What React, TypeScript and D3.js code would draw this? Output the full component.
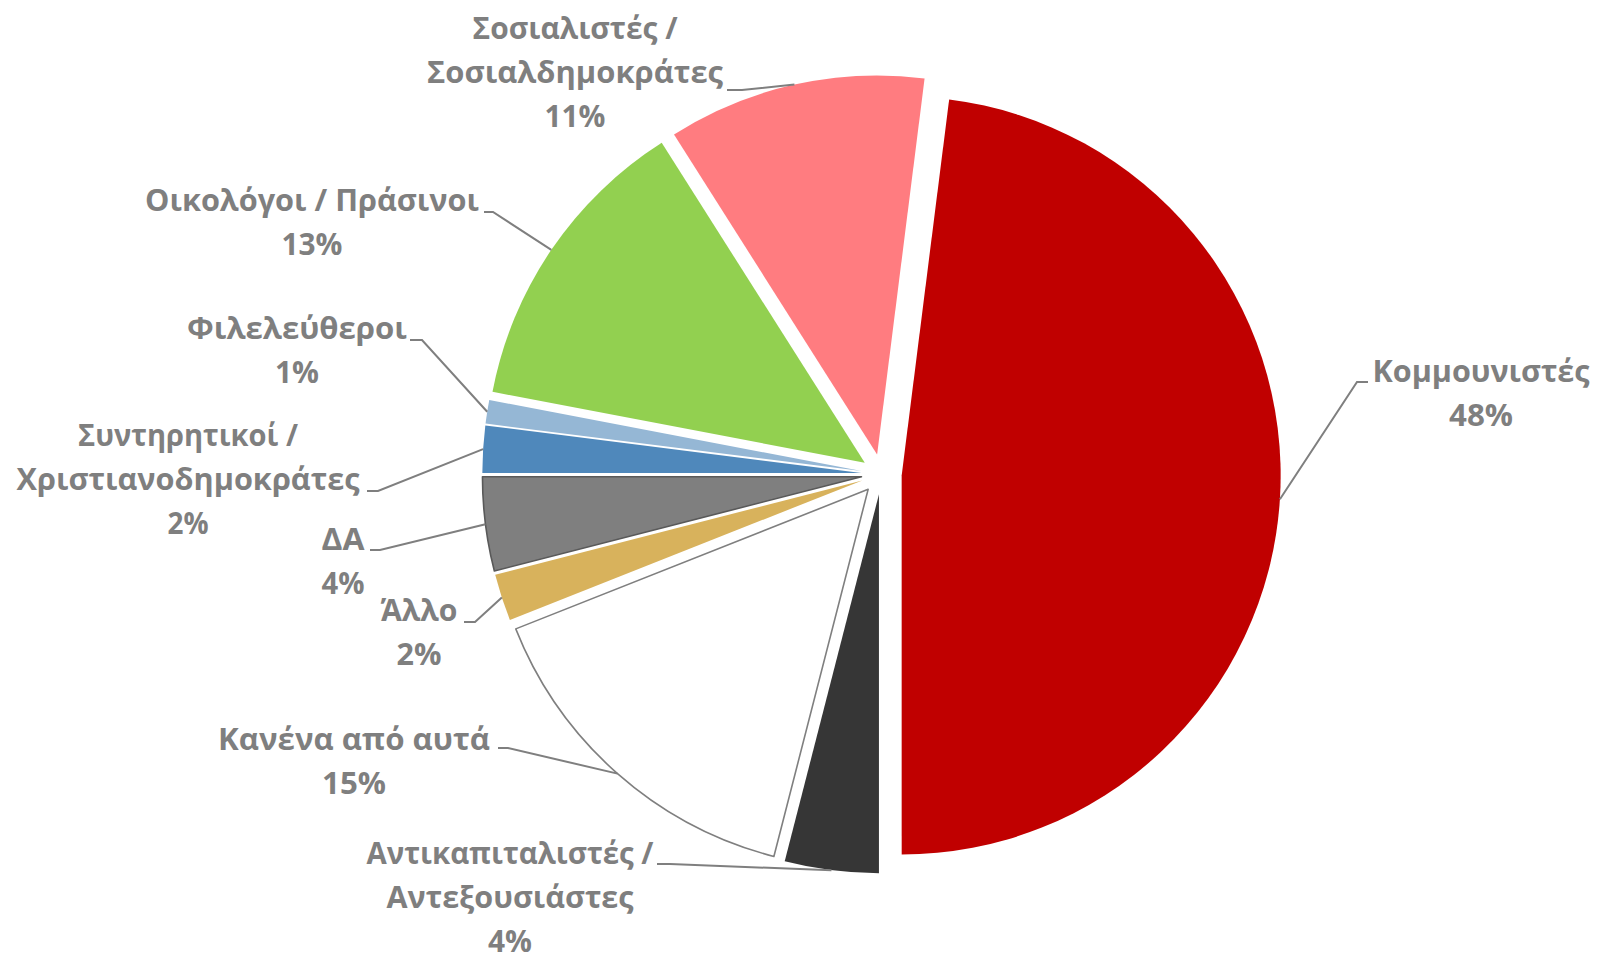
import React from "react";
import * as d3 from "d3";

// ---- data ----
const categories = [
  "Αντικαπιταλιστές / Αντεξουσιάστες",
  "Κανένα από αυτά",
  "Άλλο",
  "ΔΑ",
  "Συντηρητικοί / Χριστιανοδημοκράτες",
  "Φιλελεύθεροι",
  "Οικολόγοι / Πράσινοι",
  "Σοσιαλιστές / Σοσιαλδημοκράτες",
  "Κομμουνιστές",
];
const labelLines = [
  ["Αντικαπιταλιστές /", "Αντεξουσιάστες"],
  ["Κανένα από αυτά"],
  ["Άλλο"],
  ["ΔΑ"],
  ["Συντηρητικοί /", "Χριστιανοδημοκράτες"],
  ["Φιλελεύθεροι"],
  ["Οικολόγοι / Πράσινοι"],
  ["Σοσιαλιστές /", "Σοσιαλδημοκράτες"],
  ["Κομμουνιστές"],
];
const values = [4, 15, 2, 4, 2, 1, 13, 11, 48];
const colors = [
  "#363636",
  "#FFFFFF",
  "#D8B25C",
  "#7F7F7F",
  "#4F88BB",
  "#95B7D5",
  "#92D050",
  "#FF7C80",
  "#C00000",
];
const strokes = ["none", "#7F7F7F", "none", "#595959", "none", "none", "none", "none", "none"];

// ---- layout (label placement) ----
type LabelLayout = { cx: number; y0: number; widths: number[]; lead: [number, number][] };
const labelLayout: LabelLayout[] = [
  { cx: 510, y0: 864, widths: [287, 247, 44], lead: [[657, 864], [670, 864]] },
  { cx: 354, y0: 750, widths: [272, 64], lead: [[498, 748], [508, 748]] },
  { cx: 419, y0: 621, widths: [77, 45], lead: [[464, 622], [475, 622]] },
  { cx: 343, y0: 550, widths: [43, 43], lead: [[370, 550], [380, 550]] },
  { cx: 188, y0: 446, widths: [220, 343, 41], lead: [[367, 491], [378, 491]] },
  { cx: 297, y0: 339, widths: [220, 44], lead: [[410, 340], [422, 340]] },
  { cx: 312, y0: 211, widths: [334, 61], lead: [[484, 212], [493, 212]] },
  { cx: 575, y0: 39, widths: [205, 296, 61], lead: [[727, 90], [742, 90]] },
  { cx: 1481, y0: 382, widths: [217, 64], lead: [[1368, 382], [1357, 382]] },
];

const W = 1597;
const H = 960;
const CX = 881.5;
const CY = 474.2;
const R = 379;
const EXPLODE = 20.2;
const LINE_H = 44;

export default function App() {
  const pie = d3
    .pie<number>()
    .sort(null)
    .value((d) => d)
    .startAngle(Math.PI)
    .endAngle(3 * Math.PI);
  const arcs = pie(values);
  const arc = d3.arc<d3.PieArcDatum<number>>().innerRadius(0).outerRadius(R);
  const line = d3.line();

  return (
    <svg
      width={W}
      height={H}
      style={{ position: "absolute", left: 0, top: 0, display: "block", background: "#fff" }}
    >
      <g transform={`translate(${CX},${CY})`}>
        {arcs.map((a, i) => {
          const mid = (a.startAngle + a.endAngle) / 2;
          const dx = EXPLODE * Math.sin(mid);
          const dy = -EXPLODE * Math.cos(mid);
          return (
            <path
              key={categories[i]}
              d={arc(a) || ""}
              transform={`translate(${dx},${dy})`}
              fill={colors[i]}
              stroke={strokes[i]}
              strokeWidth={strokes[i] === "none" ? 0 : 1.6}
              strokeLinejoin="round"
            />
          );
        })}
      </g>
      {arcs.map((a, i) => {
        const mid = (a.startAngle + a.endAngle) / 2;
        const ex = CX + (EXPLODE + R) * Math.sin(mid);
        const ey = CY - (EXPLODE + R) * Math.cos(mid);
        const lay = labelLayout[i];
        const pts: [number, number][] = [...lay.lead, [ex, ey]];
        const lines = [...labelLines[i], `${values[i]}%`];
        return (
          <g key={"lab" + i}>
            <path d={line(pts) || ""} fill="none" stroke="#7F7F7F" strokeWidth={2} />
            <text
              fill="#7F7F7F"
              fontFamily="'Open Sans', 'Noto Sans', sans-serif"
              fontWeight={700}
              fontSize={31}
              textAnchor="middle"
            >
              {lines.map((t, j) => (
                <tspan
                  key={j}
                  x={lay.cx}
                  y={lay.y0 + j * LINE_H}
                  textLength={lay.widths[j]}
                  lengthAdjust="spacingAndGlyphs"
                >
                  {t}
                </tspan>
              ))}
            </text>
          </g>
        );
      })}
    </svg>
  );
}
